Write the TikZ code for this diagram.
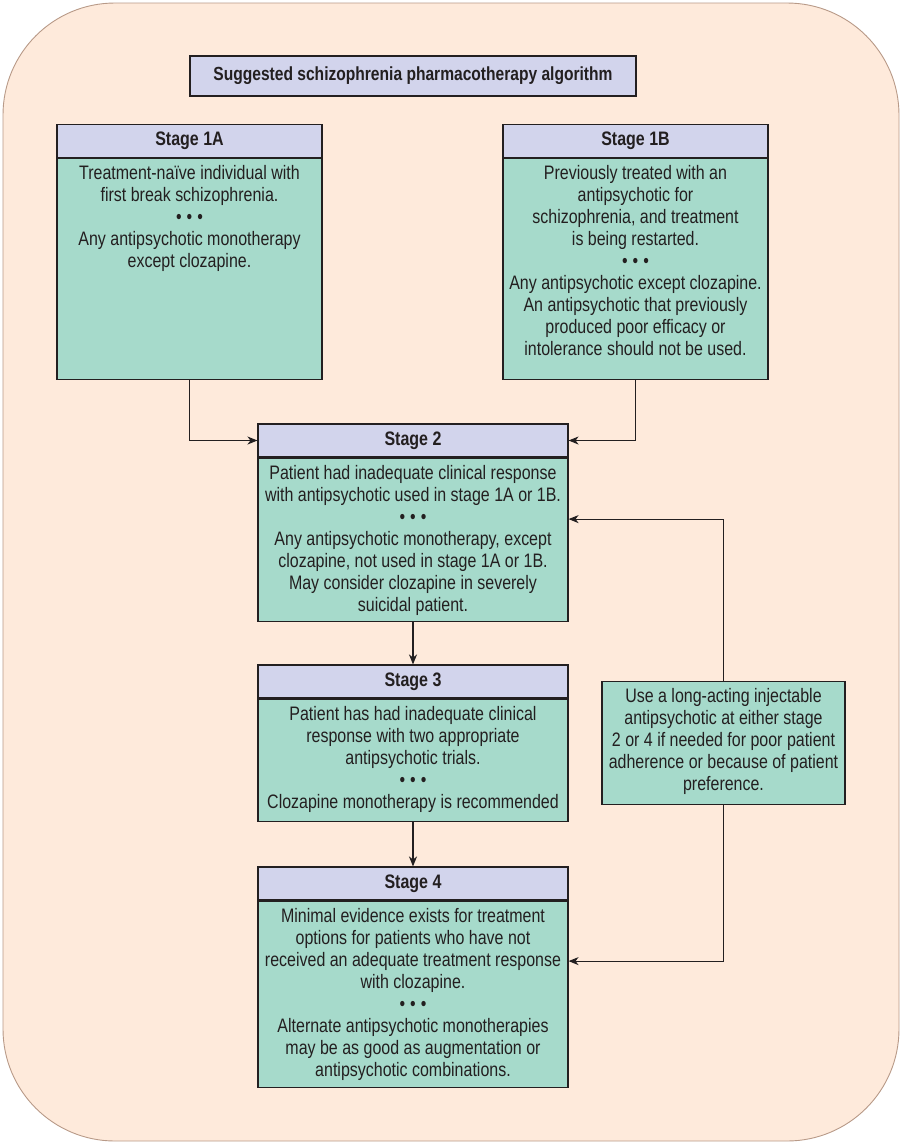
\documentclass[tikz,border=0pt]{standalone}
\usepackage{fontspec}
\setmainfont[FakeStretch=0.82]{Liberation Sans}
\usetikzlibrary{arrows.meta}
\definecolor{peach}{HTML}{FEEADB}
\definecolor{peachline}{HTML}{B89A88}
\definecolor{lavender}{HTML}{D2D4EC}
\definecolor{teal}{HTML}{A6DACB}
\definecolor{ink}{HTML}{231F20}
\newcommand{\bulletrow}{\textbullet\hspace{5pt}\textbullet\hspace{5pt}\textbullet}
% top aligned text block: height, width, lines
\newcommand{\stagetext}[3]{\parbox[t][#1][t]{#2}{\centering\rule{0pt}{21pt}#3}}
\begin{document}
\begin{tikzpicture}[x=1pt,y=-1pt,
        titlebox/.style={draw=ink,fill=lavender,line width=1.1pt,text=ink,font=\fontsize{19}{22}\selectfont\bfseries},
        head/.style={draw=ink,fill=lavender,line width=1.1pt,minimum height=33pt,text=ink,font=\fontsize{19.5}{22}\selectfont\bfseries},
        body/.style={draw=ink,fill=teal,line width=1.1pt,anchor=north,text=ink,inner sep=0pt,font=\fontsize{19.5}{22}\selectfont},
        arr/.style={draw=ink,line width=1.1pt,-{Stealth[length=10pt,width=8pt,inset=3pt]}}]
        \useasboundingbox (0,0) rectangle (902,1144);
        \draw[fill=peach,draw=peachline,line width=0.9pt,rounded corners=112pt] (3,3) rectangle (899,1141);

        \node[titlebox,minimum width=446pt,minimum height=40pt] (title) at (413,76) {Suggested schizophrenia pharmacotherapy algorithm};

        % stage 1A / 1B
        \node[head,minimum width=265pt] (h1a) at (189.5,141) {Stage 1A};
        \node[body] (b1a) at (h1a.south) {\stagetext{221pt}{265pt}%
            {Treatment-naïve individual with\\first break schizophrenia.\\\bulletrow\\Any antipsychotic monotherapy\\except clozapine.}};
        \node[head,minimum width=265pt] (h1b) at (635.5,141) {Stage 1B};
        \node[body] (b1b) at (h1b.south) {\stagetext{221pt}{265pt}%
            {Previously treated with an\\antipsychotic for\\schizophrenia, and treatment\\is being restarted.\\\bulletrow\\Any antipsychotic except clozapine.\\An antipsychotic that previously\\produced poor efficacy or\\intolerance should not be used.}};

        % stage 2
        \node[head,minimum width=310pt] (h2) at (413,440.5) {Stage 2};
        \node[body] (b2) at (h2.south) {\stagetext{163pt}{310pt}%
            {Patient had inadequate clinical response\\with antipsychotic used in stage 1A or 1B.\\\bulletrow\\Any antipsychotic monotherapy, except\\clozapine, not used in stage 1A or 1B.\\May consider clozapine in severely\\suicidal patient.}};

        % stage 3
        \node[head,minimum width=310pt] (h3) at (413,681.5) {Stage 3};
        \node[body] (b3) at (h3.south) {\stagetext{122pt}{310pt}%
            {Patient has had inadequate clinical\\response with two appropriate\\antipsychotic trials.\\\bulletrow\\Clozapine monotherapy is recommended}};

        % stage 4
        \node[head,minimum width=310pt] (h4) at (413,883.5) {Stage 4};
        \node[body] (b4) at (h4.south) {\stagetext{186pt}{310pt}%
            {Minimal evidence exists for treatment\\options for patients who have not\\received an adequate treatment response\\with clozapine.\\\bulletrow\\Alternate antipsychotic monotherapies\\may be as good as augmentation or\\antipsychotic combinations.}};

        % long-acting injectable
        \node[body] (lai) at (723.5,681) {\stagetext{123pt}{243pt}%
            {Use a long-acting injectable\\antipsychotic at either stage\\2 or 4 if needed for poor patient\\adherence or because of patient\\preference.}};

        \draw[arr] (b1a.south) |- (h2.west);
        \draw[arr] (b1b.south) |- (h2.east);
        \draw[arr] (b2.south) -- (h3.north);
        \draw[arr] (b3.south) -- (h4.north);
        \draw[arr] (lai.north) |- ([yshift=20.5pt]b2.east);
        \draw[arr] (lai.south) |- ([yshift=33pt]b4.east);
    \end{tikzpicture}
\end{document}
